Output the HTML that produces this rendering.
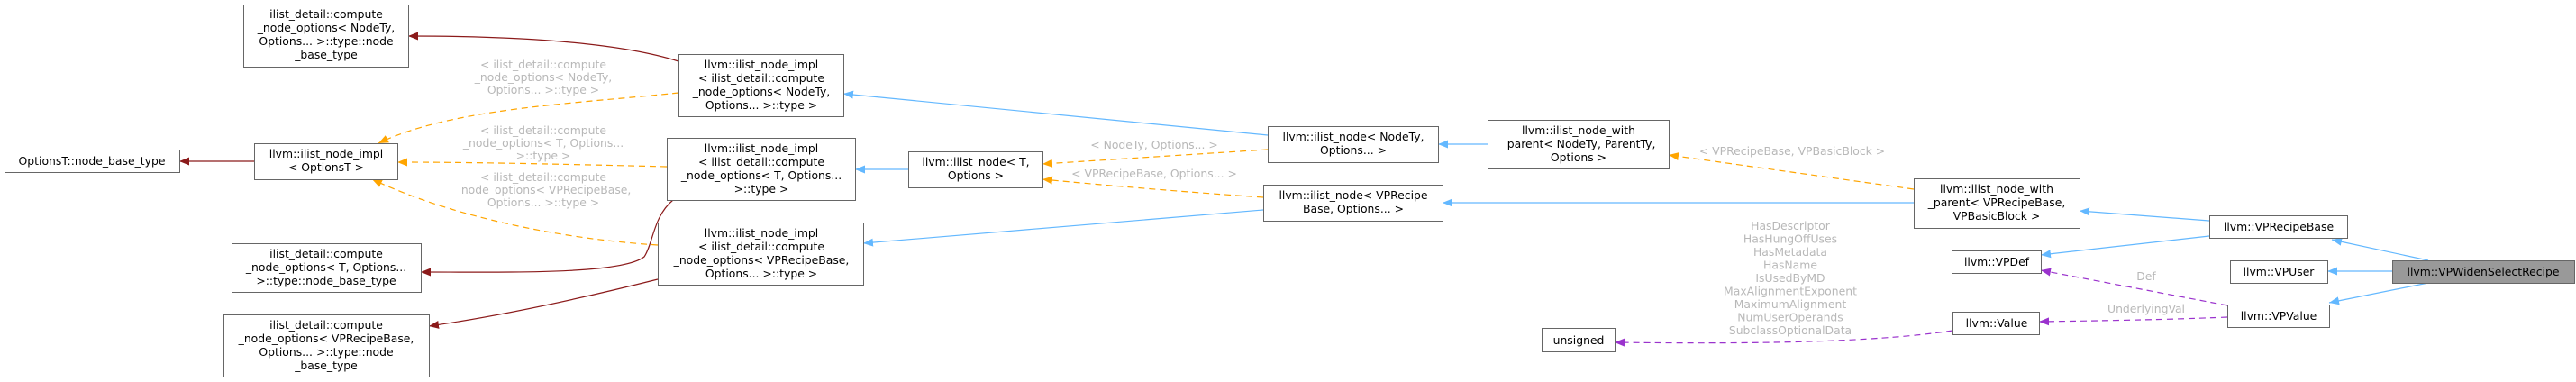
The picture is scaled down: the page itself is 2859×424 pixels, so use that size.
<!DOCTYPE html>
<html><head><meta charset="utf-8"><style>
html,body{margin:0;padding:0;background:#fff;}
svg{display:block;}
text{font-family:"DejaVu Sans","Liberation Sans",sans-serif;font-size:12.4px;fill:#000;text-anchor:middle;}
.l{fill:#b8b8b8;}
rect{fill:#fff;stroke:#666;stroke-width:1;}
.e{fill:none;stroke-width:1.2;}
.b{stroke:#63b8ff;}
.r{stroke:#8b1a1a;}
.o{stroke:#ffa500;stroke-dasharray:7,5;}
.p{stroke:#9a32cd;stroke-dasharray:7,5;}
</style></head><body>
<svg width="2859" height="424" viewBox="0 0 2859 424" xmlns="http://www.w3.org/2000/svg">
<defs>
<marker id="mb" markerUnits="userSpaceOnUse" markerWidth="12" markerHeight="10" refX="11" refY="4.5" orient="auto"><path d="M0,0 L11,4.5 L0,9 z" fill="#63b8ff"/></marker>
<marker id="mr" markerUnits="userSpaceOnUse" markerWidth="12" markerHeight="10" refX="11" refY="4.5" orient="auto"><path d="M0,0 L11,4.5 L0,9 z" fill="#8b1a1a"/></marker>
<marker id="mo" markerUnits="userSpaceOnUse" markerWidth="12" markerHeight="10" refX="11" refY="4.5" orient="auto"><path d="M0,0 L11,4.5 L0,9 z" fill="#ffa500"/></marker>
<marker id="mp" markerUnits="userSpaceOnUse" markerWidth="12" markerHeight="10" refX="11" refY="4.5" orient="auto"><path d="M0,0 L11,4.5 L0,9 z" fill="#9a32cd"/></marker>
</defs>

<!-- edges -->
<path class="e r" d="M282,179 L199,179" marker-end="url(#mr)"/>
<path class="e r" d="M753,68 C680,45 560,40 453,40" marker-end="url(#mr)"/>
<path class="e r" d="M747,222 C725,240 725,270 715,285 C690,305 560,302 467,302" marker-end="url(#mr)"/>
<path class="e r" d="M730,310 C650,330 560,350 476,362" marker-end="url(#mr)"/>
<path class="e o" d="M753,103 C640,115 500,120 420,159" marker-end="url(#mo)"/>
<path class="e o" d="M740,185 C620,182 520,180 441,180" marker-end="url(#mo)"/>
<path class="e o" d="M730,272 C620,265 500,240 413,199" marker-end="url(#mo)"/>

<path class="e b" d="M1407,150 L936,104" marker-end="url(#mb)"/>
<path class="e b" d="M1008,188 L949,188" marker-end="url(#mb)"/>
<path class="e b" d="M1402,233 L958,270" marker-end="url(#mb)"/>
<path class="e o" d="M1407,166 L1157,182" marker-end="url(#mo)"/>
<path class="e o" d="M1402,219 C1300,212 1220,205 1157,199" marker-end="url(#mo)"/>

<path class="e b" d="M1651,160 L1596,160" marker-end="url(#mb)"/>
<path class="e b" d="M2124,225 L1601,225" marker-end="url(#mb)"/>
<path class="e o" d="M2124,210 L1852,172" marker-end="url(#mo)"/>

<path class="e b" d="M2452,245 L2308,234" marker-end="url(#mb)"/>
<path class="e b" d="M2452,262 L2265,283" marker-end="url(#mb)"/>
<path class="e b" d="M2695,289 L2588,266" marker-end="url(#mb)"/>
<path class="e b" d="M2655,301 L2583,301" marker-end="url(#mb)"/>
<path class="e b" d="M2695,314 L2585,336" marker-end="url(#mb)"/>
<path class="e p" d="M2472,339 L2265,300" marker-end="url(#mp)"/>
<path class="e p" d="M2472,352 C2400,355 2330,356 2263,357" marker-end="url(#mp)"/>
<path class="e p" d="M2167,367 C2080,380 1950,382 1792,380" marker-end="url(#mp)"/>

<!-- edge labels -->
<text class="l" x="603" y="76">&lt; ilist_detail::compute</text>
<text class="l" x="603" y="90">_node_options&lt; NodeTy,</text>
<text class="l" x="603" y="104">Options... &gt;::type &gt;</text>
<text class="l" x="603" y="149">&lt; ilist_detail::compute</text>
<text class="l" x="603" y="163">_node_options&lt; T, Options...</text>
<text class="l" x="603" y="177">&gt;::type &gt;</text>
<text class="l" x="603" y="201">&lt; ilist_detail::compute</text>
<text class="l" x="603" y="215">_node_options&lt; VPRecipeBase,</text>
<text class="l" x="603" y="229">Options... &gt;::type &gt;</text>
<text class="l" x="1281" y="165">&lt; NodeTy, Options... &gt;</text>
<text class="l" x="1281" y="197">&lt; VPRecipeBase, Options... &gt;</text>
<text class="l" x="1989" y="172">&lt; VPRecipeBase, VPBasicBlock &gt;</text>
<text class="l" x="1987" y="255">HasDescriptor</text>
<text class="l" x="1987" y="269.5">HasHungOffUses</text>
<text class="l" x="1987" y="284">HasMetadata</text>
<text class="l" x="1987" y="298.5">HasName</text>
<text class="l" x="1987" y="313">IsUsedByMD</text>
<text class="l" x="1987" y="327.5">MaxAlignmentExponent</text>
<text class="l" x="1987" y="342">MaximumAlignment</text>
<text class="l" x="1987" y="356.5">NumUserOperands</text>
<text class="l" x="1987" y="371">SubclassOptionalData</text>
<text class="l" x="2382" y="311">Def</text>
<text class="l" x="2382" y="347">UnderlyingVal</text>

<!-- nodes -->
<rect x="270.5" y="5.5" width="183" height="69"/>
<text x="362" y="20">ilist_detail::compute</text><text x="362" y="35">_node_options&lt; NodeTy,</text><text x="362" y="50">Options... &gt;::type::node</text><text x="362" y="65">_base_type</text>

<rect x="5.5" y="166.5" width="194" height="25"/>
<text x="102" y="183">OptionsT::node_base_type</text>

<rect x="282.5" y="159.5" width="159" height="40"/>
<text x="362" y="175">llvm::ilist_node_impl</text><text x="362" y="190">&lt; OptionsT &gt;</text>

<rect x="257.5" y="270.5" width="210" height="54"/>
<text x="362" y="286">ilist_detail::compute</text><text x="362" y="301">_node_options&lt; T, Options...</text><text x="362" y="316">&gt;::type::node_base_type</text>

<rect x="248.5" y="349.5" width="228" height="69"/>
<text x="362" y="365">ilist_detail::compute</text><text x="362" y="380">_node_options&lt; VPRecipeBase,</text><text x="362" y="395">Options... &gt;::type::node</text><text x="362" y="410">_base_type</text>

<rect x="753.5" y="60.5" width="183" height="69"/>
<text x="845" y="76">llvm::ilist_node_impl</text><text x="845" y="91">&lt; ilist_detail::compute</text><text x="845" y="106">_node_options&lt; NodeTy,</text><text x="845" y="121">Options... &gt;::type &gt;</text>

<rect x="740.5" y="153.5" width="209" height="69"/>
<text x="845" y="169">llvm::ilist_node_impl</text><text x="845" y="184">&lt; ilist_detail::compute</text><text x="845" y="199">_node_options&lt; T, Options...</text><text x="845" y="214">&gt;::type &gt;</text>

<rect x="730.5" y="247.5" width="228" height="69"/>
<text x="845" y="263">llvm::ilist_node_impl</text><text x="845" y="278">&lt; ilist_detail::compute</text><text x="845" y="293">_node_options&lt; VPRecipeBase,</text><text x="845" y="308">Options... &gt;::type &gt;</text>

<rect x="1008.5" y="168.5" width="149" height="40"/>
<text x="1083" y="184">llvm::ilist_node&lt; T,</text><text x="1083" y="199">Options &gt;</text>

<rect x="1407.5" y="140.5" width="189" height="40"/>
<text x="1502" y="156">llvm::ilist_node&lt; NodeTy,</text><text x="1502" y="171">Options... &gt;</text>

<rect x="1402.5" y="205.5" width="199" height="40"/>
<text x="1502" y="221">llvm::ilist_node&lt; VPRecipe</text><text x="1502" y="236">Base, Options... &gt;</text>

<rect x="1651.5" y="133.5" width="201" height="54"/>
<text x="1752" y="149">llvm::ilist_node_with</text><text x="1752" y="164">_parent&lt; NodeTy, ParentTy,</text><text x="1752" y="179">Options &gt;</text>

<rect x="2124.5" y="198.5" width="184" height="55"/>
<text x="2216" y="214">llvm::ilist_node_with</text><text x="2216" y="229">_parent&lt; VPRecipeBase,</text><text x="2216" y="244">VPBasicBlock &gt;</text>

<rect x="2452.5" y="239.5" width="153" height="25"/>
<text x="2529" y="256">llvm::VPRecipeBase</text>

<rect x="2166.5" y="278.5" width="99" height="25"/>
<text x="2216" y="295">llvm::VPDef</text>

<rect x="2475.5" y="289.5" width="108" height="25"/>
<text x="2529" y="306">llvm::VPUser</text>

<rect x="2655.5" y="289.5" width="202" height="25" style="fill:#999"/>
<text x="2756" y="306">llvm::VPWidenSelectRecipe</text>

<rect x="2472.5" y="338.5" width="113" height="25"/>
<text x="2529" y="355">llvm::VPValue</text>

<rect x="2167.5" y="346.5" width="96" height="25"/>
<text x="2216" y="363">llvm::Value</text>

<rect x="1711.5" y="364.5" width="81" height="26"/>
<text x="1752" y="382">unsigned</text>
</svg>
</body></html>
